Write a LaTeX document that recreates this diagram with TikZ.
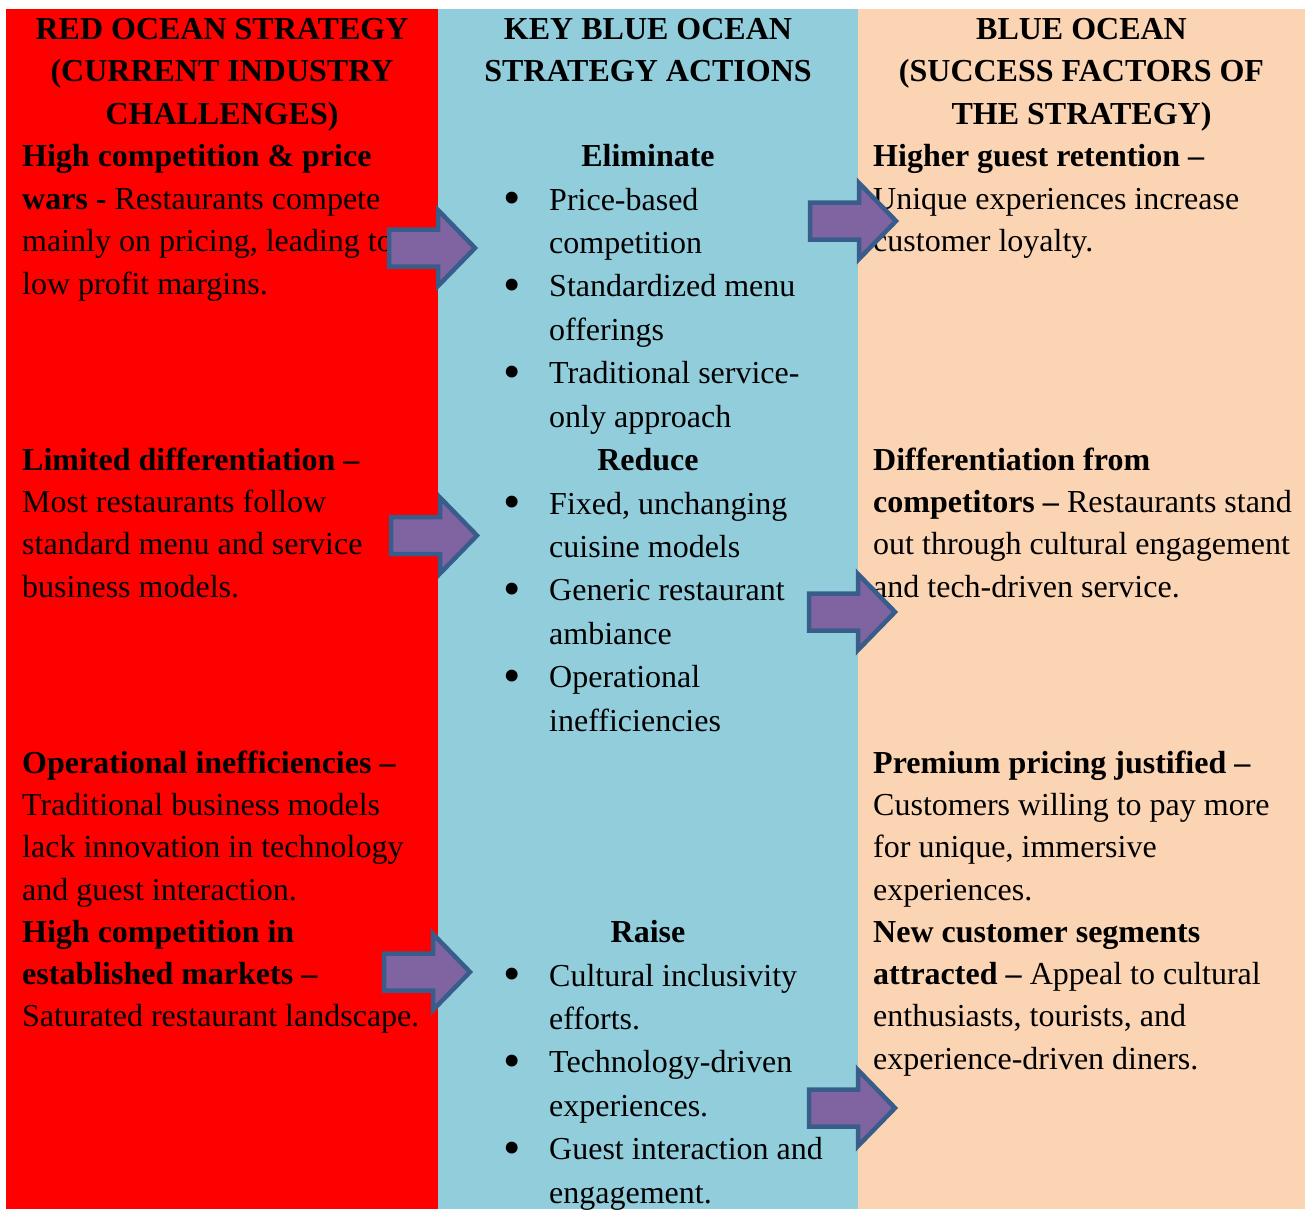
\documentclass[tikz,border=0pt]{standalone}
\usepackage{fontspec}
\setmainfont{Liberation Serif}

\definecolor{redocean}{HTML}{FF0000}
\definecolor{blueocean}{HTML}{92CDDC}
\definecolor{peach}{HTML}{FBD4B4}
\definecolor{arrowfill}{HTML}{8064A2}
\definecolor{arrowline}{HTML}{385D8A}

\newcommand{\rows}[1]{\begin{tabular}[t]{@{}l@{}}#1\end{tabular}}
\newcommand{\crows}[1]{\begin{tabular}[t]{@{}c@{}}#1\end{tabular}}
\newcommand{\items}[1]{\begin{tabular}[t]{@{}p{46pt}@{}l@{}}#1\end{tabular}}
\newcommand{\dotitem}{\raisebox{-4.5pt}{\scalebox{1.55}{\textbullet}}}

\tikzset{
	txt/.style={anchor=base west, inner sep=0pt, font=\fontsize{32}{42.4}\selectfont},
	mid/.style={anchor=base west, inner sep=0pt, font=\fontsize{32}{43.4}\selectfont},
	head/.style={anchor=base, inner sep=0pt, font=\fontsize{32}{42.4}\selectfont\bfseries},
	blockarrow/.pic={
		\filldraw[fill=arrowfill, draw=arrowline, line width=4.5pt, line join=miter]
		(0, -18.5) -- ++ (49, 0) -- ++ (0, -19.5) -- (86, 0) -- (49, 38) -- ++ (0, -19.5) -- (0, 18.5) -- cycle;
	}
}

\begin{document}
\begin{tikzpicture}[x=1pt, y=-1pt]
	\useasboundingbox (0, 0) rectangle (1305, 1209);
	\fill[redocean] (6, 9) rectangle (438, 1209);
	\fill[blueocean] (438, 9) rectangle (858, 1209);
	\fill[peach] (858, 9) rectangle (1305, 1209);

	\node[head] (redhead) at (222, 39.5) {\crows{RED OCEAN STRATEGY\\(CURRENT INDUSTRY\\CHALLENGES)}};
	\node[head] (midhead) at (648, 39.5) {\crows{KEY BLUE OCEAN\\STRATEGY ACTIONS}};
	\node[head] (bluehead) at (1081.5, 39.5) {\crows{BLUE OCEAN\\(SUCCESS FACTORS OF\\THE STRATEGY)}};

	\node[txt] (red1) at (22, 167) {\rows{\textbf{High competition \& price}\\\textbf{wars -} Restaurants compete\\mainly on pricing, leading to\\low profit margins.}};
	\node[txt] (red2) at (22, 470) {\rows{\textbf{Limited differentiation --}\\Most restaurants follow\\standard menu and service\\business models.}};
	\node[txt] (red3) at (22, 773) {\rows{\textbf{Operational inefficiencies --}\\Traditional business models\\lack innovation in technology\\and guest interaction.}};
	\node[txt] (red4) at (22, 942) {\rows{\textbf{High competition in}\\\textbf{established markets --}\\Saturated restaurant landscape.}};

	\node[head] (elim) at (648, 167) {Eliminate};
	\node[mid] (elimlist) at (503, 210) {\items{\dotitem & Price-based\\ & competition\\\dotitem & Standardized menu\\ & offerings\\\dotitem & Traditional service-\\ & only approach}};
	\node[head] (reduce) at (648, 470) {Reduce};
	\node[mid] (reducelist) at (503, 514) {\items{\dotitem & Fixed, unchanging\\ & cuisine models\\\dotitem & Generic restaurant\\ & ambiance\\\dotitem & Operational\\ & inefficiencies}};
	\node[head] (raise) at (648, 942) {Raise};
	\node[mid] (raiselist) at (503, 986) {\items{\dotitem & Cultural inclusivity\\ & efforts.\\\dotitem & Technology-driven\\ & experiences.\\\dotitem & Guest interaction and\\ & engagement.}};

	\node[txt] (blue1) at (873, 167) {\rows{\textbf{Higher guest retention --}\\Unique experiences increase\\customer loyalty.}};
	\node[txt] (blue2) at (873, 470) {\rows{\textbf{Differentiation from}\\\textbf{competitors --} Restaurants stand\\out through cultural engagement\\and tech-driven service.}};
	\node[txt] (blue3) at (873, 773) {\rows{\textbf{Premium pricing justified --}\\Customers willing to pay more\\for unique, immersive\\experiences.}};
	\node[txt] (blue4) at (873, 942) {\rows{\textbf{New customer segments}\\\textbf{attracted --} Appeal to cultural\\enthusiasts, tourists, and\\experience-driven diners.}};

	\pic at (389, 248) {blockarrow};
	\pic at (810, 221) {blockarrow};
	\pic at (391, 535.5) {blockarrow};
	\pic at (809, 612) {blockarrow};
	\pic at (384, 972) {blockarrow};
	\pic at (809, 1108) {blockarrow};
\end{tikzpicture}
\end{document}
